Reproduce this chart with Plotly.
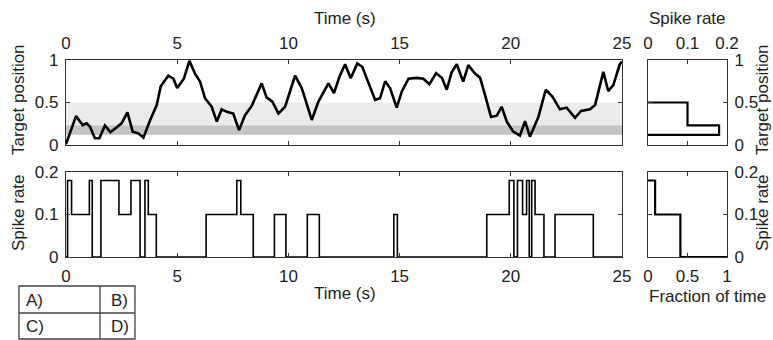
import plotly.graph_objects as go

W, H = 773, 340

# ---------------- data ----------------
time_s = [0, 0.45, 0.75, 0.93, 1.08, 1.30, 1.5, 1.75, 2.0, 2.5, 2.76, 3.0, 3.25, 3.48, 3.78,
          4.08, 4.26, 4.6, 4.83, 5.0, 5.3, 5.55, 5.8, 6.03, 6.25, 6.55, 6.78, 7.0, 7.23, 7.52,
          7.78, 8.05, 8.35, 8.8, 9.02, 9.28, 9.55, 9.85, 10.3, 10.6, 11.05, 11.35, 11.8, 12.05,
          12.29, 12.55, 12.8, 13.1, 13.32, 13.6, 13.9, 14.12, 14.35, 14.57, 14.87, 15.1, 15.4,
          15.77, 16.07, 16.34, 16.64, 16.9, 17.12, 17.34, 17.57, 17.86, 18.09, 18.39, 18.62,
          18.84, 19.11, 19.37, 19.59, 19.82, 20.11, 20.41, 20.64, 20.86, 21.24, 21.57, 21.87,
          22.21, 22.51, 22.89, 23.16, 23.56, 23.79, 24.16, 24.38, 24.61, 24.9, 25.0]
target_pos = [0.01, 0.34, 0.235, 0.255, 0.215, 0.08, 0.08, 0.23, 0.15, 0.255, 0.385, 0.157,
              0.137, 0.087, 0.29, 0.47, 0.69, 0.815, 0.78, 0.67, 0.78, 0.99, 0.84, 0.745, 0.55,
              0.45, 0.275, 0.42, 0.39, 0.37, 0.175, 0.35, 0.46, 0.725, 0.56, 0.51, 0.37, 0.45,
              0.815, 0.67, 0.295, 0.51, 0.725, 0.61, 0.80, 0.95, 0.785, 0.96, 0.92, 0.725, 0.53,
              0.55, 0.75, 0.67, 0.44, 0.63, 0.78, 0.79, 0.78, 0.715, 0.845, 0.79, 0.65, 0.855,
              0.95, 0.745, 0.94, 0.84, 0.79, 0.59, 0.33, 0.345, 0.45, 0.275, 0.157, 0.11, 0.28,
              0.098, 0.33, 0.65, 0.57, 0.42, 0.44, 0.32, 0.40, 0.42, 0.47, 0.86, 0.635, 0.705,
              0.95, 0.98]

rate_t = [0, 0.07, 0.25, 1.05, 1.18, 1.57, 2.38, 2.92, 3.33, 3.55, 3.70, 4.06, 6.30, 7.68,
          7.86, 8.42, 9.37, 9.89, 10.85, 11.39, 14.74, 14.90, 18.92, 19.93, 20.14, 20.30,
          20.53, 20.71, 20.83, 20.94, 21.09, 21.49, 21.99, 23.71, 25]
rate_v = [0, 0.18, 0.1, 0.18, 0, 0.18, 0.1, 0.18, 0, 0.18, 0.1, 0, 0.1, 0.18, 0.1, 0, 0.1, 0,
          0.1, 0, 0.1, 0, 0.1, 0.18, 0, 0.18, 0.1, 0.18, 0, 0.18, 0.1, 0, 0.1, 0, 0]

band_outer = [0.12, 0.5]
band_inner = [0.12, 0.23]

hist_edges_desc = [0.5, 0.23, 0.12]
hist_rates_top_down = [0.1, 0.18]

rate_levels = [0.18, 0.1, 0.0]
cum_fraction = [0.09, 0.41, 1.0]

time_ticks = [0, 5, 10, 15, 20, 25]
pos_ticks = [0, 0.5, 1]
rate_ticks = [0, 0.1, 0.2]
frac_ticks = [0, 0.5, 1]
table_labels = [["A)", "B)"], ["C)", "D)"]]

# ---------------- helpers ----------------
def px(x):
    return x / W


def py(y):
    return 1 - y / H


FONT = "Liberation Sans, Arial, sans-serif"
TXT = "#222222"
AX = "#333333"

# histogram outline (rate vs position)
hx, hy = [0], [hist_edges_desc[0]]
for i, r in enumerate(hist_rates_top_down):
    hx += [r, r]
    hy += [hist_edges_desc[i], hist_edges_desc[i + 1]]
hx.append(0)
hy.append(hist_edges_desc[-1])

# fraction-of-time outline
fx, fy = [0], [rate_levels[0]]
for i in range(len(rate_levels)):
    fx.append(cum_fraction[i]); fy.append(rate_levels[i])
    if i + 1 < len(rate_levels):
        fx.append(cum_fraction[i]); fy.append(rate_levels[i + 1])

fig = go.Figure()
fig.add_trace(go.Scatter(x=time_s, y=target_pos, mode="lines",
                         line=dict(color="black", width=2.6), xaxis="x", yaxis="y"))
fig.add_trace(go.Scatter(x=rate_t, y=rate_v, mode="lines", line_shape="hv",
                         line=dict(color="black", width=1.6), xaxis="x2", yaxis="y2"))
fig.add_trace(go.Scatter(x=hx, y=hy, mode="lines",
                         line=dict(color="black", width=2.2), xaxis="x3", yaxis="y3"))
fig.add_trace(go.Scatter(x=fx, y=fy, mode="lines",
                         line=dict(color="black", width=2.2), xaxis="x4", yaxis="y4"))

# bands
fig.add_shape(type="rect", xref="x", yref="y", x0=time_ticks[0], x1=time_ticks[-1],
              y0=band_outer[0], y1=band_outer[1], fillcolor="#ebebeb", line_width=0,
              layer="below")
fig.add_shape(type="rect", xref="x", yref="y", x0=time_ticks[0], x1=time_ticks[-1],
              y0=band_inner[0], y1=band_inner[1], fillcolor="#c4c4c4", line_width=0,
              layer="below")

common = dict(showline=True, linecolor=AX, linewidth=1.3, mirror="ticks", ticks="inside",
              ticklen=4, tickcolor=AX, tickwidth=1.2, showgrid=False, zeroline=False,
              tickfont=dict(family=FONT, size=17, color=TXT), automargin=False,
              fixedrange=True, ticklabelstandoff=3)

xl = [px(66), px(622)]
xr = [px(648), px(727)]
yt = [py(145), py(60)]
yb = [py(257), py(172)]

fig.update_layout(
    width=W, height=H, margin=dict(l=0, r=0, t=0, b=0),
    paper_bgcolor="white", plot_bgcolor="white", showlegend=False,
    xaxis=dict(domain=xl, anchor="y", range=[0, 25], side="top", tickvals=time_ticks, **common),
    yaxis=dict(domain=yt, anchor="x", range=[0, 1], tickvals=pos_ticks,
               ticktext=["0", "0.5", "1"], **common),
    xaxis2=dict(domain=xl, anchor="y2", range=[0, 25], side="bottom", tickvals=time_ticks, **common),
    yaxis2=dict(domain=yb, anchor="x2", range=[0, 0.2], tickvals=rate_ticks,
                ticktext=["0", "0.1", "0.2"], **common),
    xaxis3=dict(domain=xr, anchor="y3", range=[0, 0.2], side="top", tickvals=rate_ticks,
                ticktext=["0", "0.1", "0.2"], **common),
    yaxis3=dict(domain=yt, anchor="x3", range=[0, 1], side="right", tickvals=pos_ticks,
                ticktext=["0", "0.5", "1"], **common),
    xaxis4=dict(domain=xr, anchor="y4", range=[0, 1], side="bottom", tickvals=frac_ticks,
                ticktext=["0", "0.5", "1"], **common),
    yaxis4=dict(domain=yb, anchor="x4", range=[0, 0.2], side="right", tickvals=rate_ticks,
                ticktext=["0", "0.1", "0.2"], **common),
)

def note(text, x, y, angle=0, xanchor="center"):
    fig.add_annotation(text=text, x=px(x), y=py(y), xref="paper", yref="paper",
                       showarrow=False, textangle=angle, xanchor=xanchor, yanchor="middle",
                       font=dict(family=FONT, size=17, color=TXT))

note("Time (s)", 345, 18)
note("Time (s)", 345, 293)
note("Spike rate", 687, 18)
note("Fraction of time", 647, 296, xanchor="left")
note("Target position", 18, 100, angle=-90)
note("Spike rate", 18, 213, angle=-90)
note("Target position", 762, 100, angle=-90)
note("Spike rate", 762, 213, angle=-90)

# small table
tx0, tx1, txm = 19, 135, 100
ty0, ty1, tym = 286, 339, 313
fig.add_shape(type="rect", xref="paper", yref="paper", x0=px(tx0), y0=py(ty1), x1=px(tx1),
              y1=py(ty0), line=dict(color="#444444", width=1.3))
fig.add_shape(type="line", xref="paper", yref="paper", x0=px(tx0), x1=px(tx1),
              y0=py(tym), y1=py(tym), line=dict(color="#444444", width=1.3))
fig.add_shape(type="line", xref="paper", yref="paper", x0=px(txm), x1=px(txm),
              y0=py(ty0), y1=py(ty1), line=dict(color="#444444", width=1.3))
row_y = [300, 326]
col_x = [24, 109]
for r, row in enumerate(table_labels):
    for c, lab in enumerate(row):
        note(lab, col_x[c], row_y[r], xanchor="left")

fig.write_html("out.html")
